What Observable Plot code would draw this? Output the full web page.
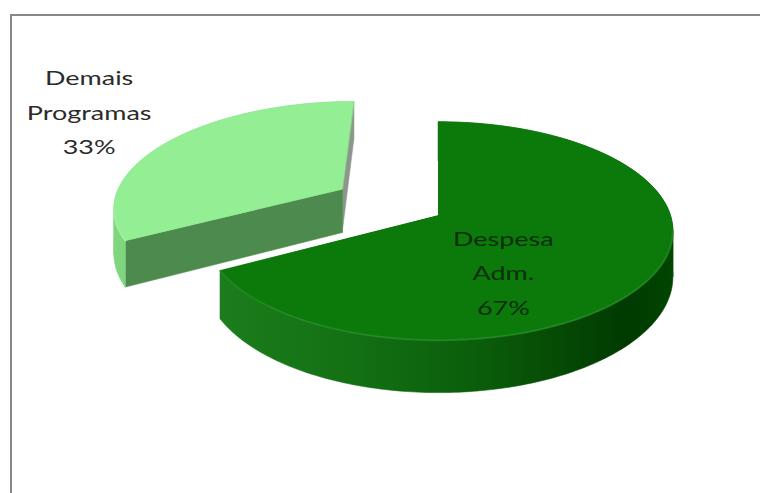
<!DOCTYPE html>
<html><head><meta charset="utf-8">
<script src="https://cdn.jsdelivr.net/npm/d3@7"></script>
<script src="https://cdn.jsdelivr.net/npm/@observablehq/plot@0.6"></script>
<style>
html,body{margin:0;padding:0;background:#fff;}
#wrap{position:relative;width:760px;height:493px;overflow:hidden;}
#wrap svg{position:absolute;left:0;top:0;}
#frame{position:absolute;left:10px;top:14px;width:800px;height:600px;border-top:2px solid #888;border-left:2px solid #888;pointer-events:none;}
</style></head><body><div id="wrap"><div id="frame"></div></div>
<script>
// ---- data ----
const categories = ["Despesa Adm.", "Demais Programas"];
const shares = [67, 33];

// ---- styles ----
const topColors   = ["#0b7a0b", "#94ef94"];
const wallColors  = ["url(#bigSide)", "#7fd67f"];
const faceStartColors = ["#0a4f0a", "#4d8a4d"];
const faceEndColors   = ["#0a4f0a", "#8a978a"];
const rimColors   = ["#2f922f", "#a8f5a8"];
const labelColors = ["#0b2e0b", "#2b2b2b"];
const explode = [0, 0.5];          // radial offset (radii)
const labelRadius = [0.566, 1.57]; // from slice apex (radii)
const labelShift = [32.1, 2.6];    // degrees added to mid-angle
const P = 0.142;     // perspective strength
const DEPTH = 0.42;  // thickness (radii)
const TAU = Math.PI * 2;

const total = d3.sum(shares);
let acc = 0;
const slices = categories.map((name, i) => {
  const a0 = acc / total * TAU; acc += shares[i];
  const a1 = acc / total * TAU;
  const mid = (a0 + a1) / 2;
  return {i, name, value: shares[i], a0, a1, mid,
          ox: explode[i] * Math.sin(mid), oy: explode[i] * Math.cos(mid)};
});

function proj(s, r, a, z) {
  const u = s.ox + r * Math.sin(a), v = s.oy + r * Math.cos(a);
  const f = 1 / (1 + P * v);
  return {x: u * f, y: (v - DEPTH * z) * f};
}
function arc(s, b0, b1, z) {
  const n = Math.max(2, Math.ceil(Math.abs(b1 - b0) / TAU * 360));
  return d3.range(n + 1).map(k => proj(s, 1, b0 + (b1 - b0) * k / n, z));
}
function wallSegments(s) {
  const n = 720;
  const angs = d3.range(n + 1).map(k => s.a0 + (s.a1 - s.a0) * k / n);
  const xs = angs.map(a => proj(s, 1, a, 0).x);
  const cuts = [s.a0];
  let prev = Math.sign(xs[1] - xs[0]);
  for (let k = 1; k < n; k++) {
    const d = Math.sign(xs[k + 1] - xs[k]);
    if (d !== 0 && prev !== 0 && d !== prev) cuts.push(angs[k]);
    if (d !== 0) prev = d;
  }
  cuts.push(s.a1);
  return d3.pairs(cuts).map(([b0, b1]) => ({b0, b1, front: Math.cos((b0 + b1) / 2) < 0}));
}

const polys = [];
const rims = [];
let pid = 0;
function addPoly(color, pts) {
  const id = pid++;
  pts.forEach(p => polys.push({id, color, x: p.x, y: p.y}));
}
const order = slices.slice().sort((a, b) => b.oy - a.oy);
for (const s of order) {
  const segs = wallSegments(s);
  for (const g of segs.filter(g => !g.front))
    addPoly(wallColors[s.i], [...arc(s, g.b0, g.b1, 0), ...arc(s, g.b1, g.b0, 1)]);
  for (const [a, c] of [[s.a1, faceEndColors[s.i]], [s.a0, faceStartColors[s.i]]])
    addPoly(c, [proj(s, 0, a, 0), proj(s, 1, a, 0), proj(s, 1, a, 1), proj(s, 0, a, 1)]);
  for (const g of segs.filter(g => g.front))
    addPoly(wallColors[s.i], [...arc(s, g.b0, g.b1, 0), ...arc(s, g.b1, g.b0, 1)]);
  addPoly(topColors[s.i], [proj(s, 0, 0, 0), ...arc(s, s.a0, s.a1, 0)]);
  for (const g of segs.filter(g => g.front))
    arc(s, g.b0, g.b1, 0).forEach(p => rims.push({id: s.i, color: rimColors[s.i], x: p.x, y: p.y}));
}

const labels = slices.map(s => {
  const p = proj(s, labelRadius[s.i], s.mid + labelShift[s.i] * Math.PI / 180, 0);
  return {x: p.x, y: p.y, color: labelColors[s.i],
          text: s.name.split(" ").join("\n") + "\n" + s.value + "%"};
});

const chart = Plot.plot({
  width: 760, height: 493, margin: 0,
  style: {background: "transparent", overflow: "visible"},
  x: {type: "linear", domain: [-1, 1], range: [438 - 232, 438 + 232], axis: null},
  y: {type: "linear", domain: [-1, 1], range: [215 + 107, 215 - 107], axis: null},
  color: {type: "identity"},
  marks: [
    Plot.line(polys, {x: "x", y: "y", z: "id", fill: "color", stroke: "color", strokeWidth: 0.6, curve: "linear-closed"}),
    Plot.line(rims, {x: "x", y: "y", z: "id", stroke: "color", strokeWidth: 2, strokeOpacity: 0.55}),
    Plot.text(labels, {x: "x", y: "y", text: "text", fill: "color", fontSize: 19, dy: -4,
      fontFamily: "Lato, 'Open Sans', sans-serif", lineHeight: 1.8, lineAnchor: "middle", textAnchor: "middle"})
  ]
});

const svg = d3.select(chart);
const grad = svg.insert("defs", ":first-child").append("linearGradient")
  .attr("id", "bigSide").attr("x1", 0).attr("x2", 1).attr("y1", 0).attr("y2", 0);
[[0, "#1b7d1b"], [0.3, "#137013"], [0.55, "#0b5f0b"], [0.75, "#054a05"], [0.9, "#003a00"], [1, "#004500"]]
  .forEach(([o, c]) => grad.append("stop").attr("offset", o).attr("stop-color", c));
svg.selectAll("g[aria-label='text'] text").each(function() {
  const t = this.getAttribute("transform") || "";
  this.setAttribute("transform", t + " scale(1.42,1)");
});
document.getElementById("wrap").prepend(chart);
</script>
</body></html>
